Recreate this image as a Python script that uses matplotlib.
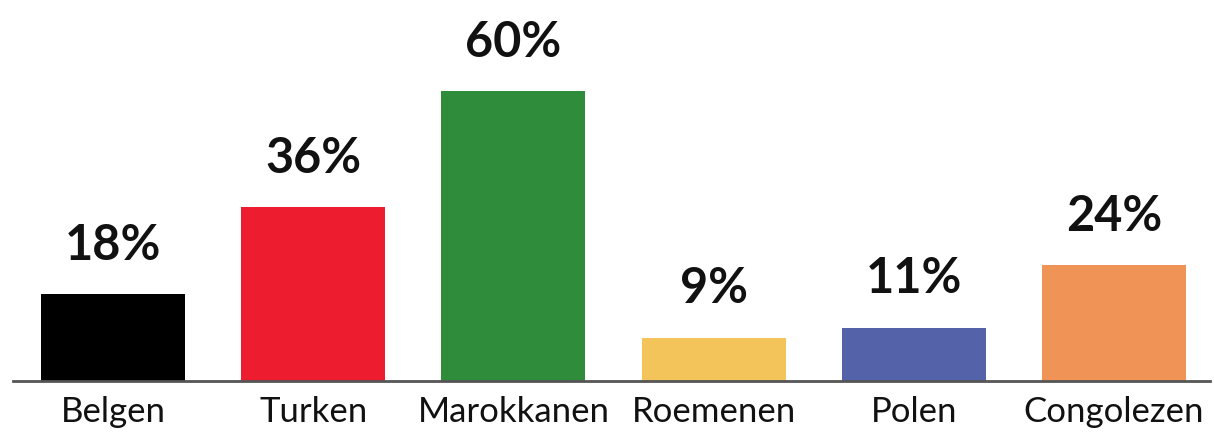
import matplotlib
matplotlib.use("Agg")
import matplotlib.pyplot as plt

categories = ["Belgen", "Turken", "Marokkanen", "Roemenen", "Polen", "Congolezen"]
values = [18, 36, 60, 9, 11, 24]
colors = ["#000000", "#ED1C2E", "#2F8C3A", "#F2C45A", "#5462AA", "#F09357"]

plt.rcParams["font.family"] = ["Lato", "DejaVu Sans"]

fig = plt.figure(figsize=(12.14, 4.36), dpi=100)
ax = fig.add_axes([13 / 1214, 55 / 436, 1197 / 1214, 381 / 436])

x = list(range(len(categories)))
ax.bar(x, values, width=0.72, color=colors, zorder=2)

for xi, v in zip(x, values):
    ax.annotate(f"{v}%", (xi, v), xytext=(0, 19), textcoords="offset points",
                ha="center", va="bottom", fontsize=35, fontweight="bold",
                color="#111111")

ax.set_xlim(-0.5, 5.48)
ax.set_ylim(0, 78.9)
ax.set_xticks(x)
ax.set_xticklabels(categories, fontsize=25, color="#111111")
ax.tick_params(axis="x", length=0, pad=11)
ax.set_yticks([])
for side in ["top", "left", "right"]:
    ax.spines[side].set_visible(False)
ax.spines["bottom"].set_color("#555555")
ax.spines["bottom"].set_linewidth(2)
ax.spines["bottom"].set_zorder(3)

fig.savefig("out.png", dpi=100)
